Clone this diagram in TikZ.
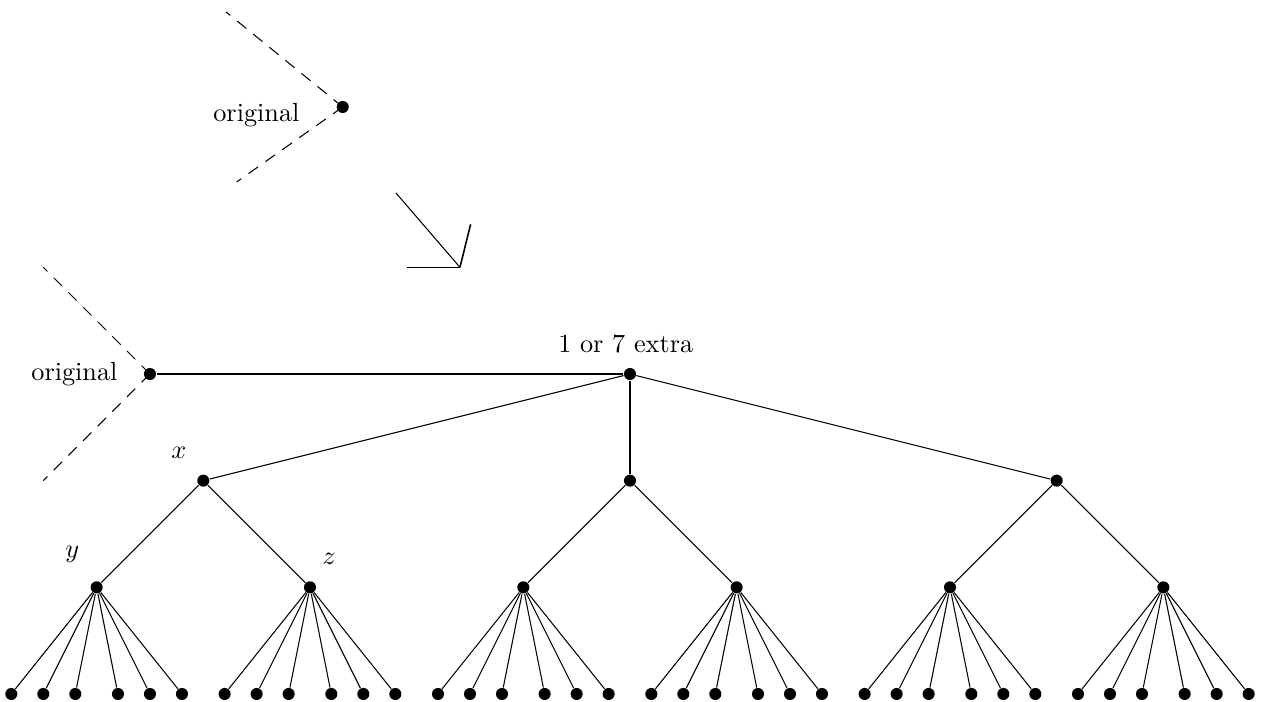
\documentclass[tikz,border=0pt]{standalone}
\begin{document}
\begin{tikzpicture}[x=1.43cm,y=1.43cm,
  dot/.style={circle,fill,inner sep=0pt,minimum size=4.6pt},
  tag/.style={inner sep=0pt},
  guide/.style={dash pattern=on 4.5pt off 3.4pt}]
\useasboundingbox (-5.906,-3.075) rectangle (5.925,3.506);

% upper copy of the attachment point
\node[dot] (t) at (-2.693,2.503) {};
\node[tag,anchor=east] (tl) at (-3.094,2.428) {original};
\coordinate (tu) at (-3.787,3.394);
\coordinate (td) at (-3.687,1.8);
\draw[guide] (t.center) -- (tu);
\draw[guide] (t.center) -- (td);

% hand-drawn arrow
\coordinate (as) at (-2.194,1.697);
\coordinate (at) at (-1.594,1.0);
\coordinate (ah) at (-2.094,1.0);
\coordinate (aw) at (-1.494,1.403);
\draw (as) -- (at);
\draw (ah) -- (at);
\draw[line width=0.6pt] (at) -- (aw);

% root and the original vertex
\node[dot] (r) at (0,0) {};
\node[anchor=base] (rl) at (-0.04,0.206) {1 or 7 extra};
\node[dot] (o) at (-4.5,0) {};
\node[tag,anchor=east] (ol) at (-4.8,0) {original};
\coordinate (ou) at (-5.5,1);
\coordinate (od) at (-5.5,-1);
\draw[guide] (o.center) -- (ou);
\draw[guide] (o.center) -- (od);
\draw (o) -- (r);

% the tree below the root
\foreach \i/\x in {a/-4,b/0,c/4}{
  \node[dot] (\i) at (\x,-1) {};
  \draw (r) -- (\i);
  \foreach \j/\dx in {1/-1,2/1}{
    \path (\i) ++(\dx,-1) node[dot] (\i\j) {};
    \draw (\i) -- (\i\j);
    \foreach \k/\lx in {1/-0.8,2/-0.5,3/-0.2,4/0.2,5/0.5,6/0.8}{
      \path (\i\j) ++(\lx,-1) node[dot] (\i\j\k) {};
      \draw (\i\j) -- (\i\j\k);
    }
  }
}

% vertex labels
\node (lx) at (-4.228,-0.738) {$x$};
\node (ly) at (-5.228,-1.69) {$y$};
\node (lz) at (-2.822,-1.737) {$z$};
\end{tikzpicture}
\end{document}
